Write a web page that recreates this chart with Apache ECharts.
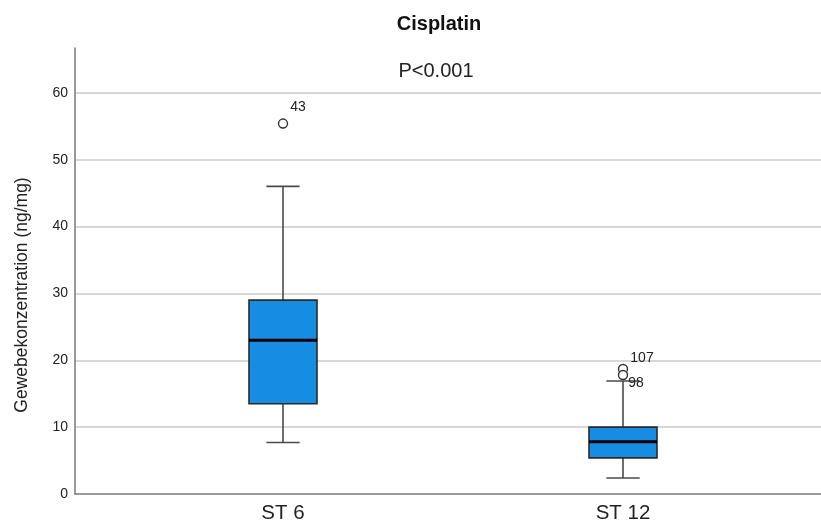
<!DOCTYPE html>
<html>
<head>
<meta charset="utf-8">
<script src="https://cdn.jsdelivr.net/npm/echarts@6/dist/echarts.min.js"></script>
<style>
  html, body { margin: 0; padding: 0; background: #fff; }
  #chart { width: 821px; height: 525px; }
</style>
</head>
<body>
<div id="chart"></div>
<script>
// Tissue concentration of cisplatin per group (ng/mg)
const categories = ['ST 6', 'ST 12'];
const whiskerLow = [7.7, 2.4];
const quartile1 = [13.5, 5.4];
const medians = [23.0, 7.8];
const quartile3 = [29.0, 10.0];
const whiskerHigh = [46.0, 16.9];

// Outliers: group index, value, case number
const outlierGroup = [0, 1, 1];
const outlierValue = [55.4, 18.7, 17.8];
const outlierCase = ['43', '107', '98'];

const yTicks = [0, 10, 20, 30, 40, 50, 60];

const FONT = 'Liberation Sans, Arial, sans-serif';
const Y_MAX = 66.7;

const boxRows = categories.map((c, i) => [i, whiskerLow[i], quartile1[i], medians[i], quartile3[i], whiskerHigh[i]]);
const outlierRows = outlierGroup.map((g, i) => ({ value: [g, outlierValue[i]], caseId: outlierCase[i] }));
const labelOffsets = { '43': [15, -16], '107': [19, -11], '98': [13, 8] };

function renderBox(params, api) {
  const i = api.value(0);
  const pLow = api.coord([i, api.value(1)]);
  const pQ1 = api.coord([i, api.value(2)]);
  const pMed = api.coord([i, api.value(3)]);
  const pQ3 = api.coord([i, api.value(4)]);
  const pHigh = api.coord([i, api.value(5)]);
  const band = api.size([1, 0])[0];
  const w = band * 0.2;
  const cap = w * 0.49;
  const cx = pMed[0];
  const whiskerStyle = { stroke: '#4a4a4a', lineWidth: 1.6 };
  return {
    type: 'group',
    children: [
      { type: 'line', shape: { x1: cx, y1: pQ3[1], x2: cx, y2: pHigh[1] }, style: whiskerStyle },
      { type: 'line', shape: { x1: cx, y1: pQ1[1], x2: cx, y2: pLow[1] }, style: whiskerStyle },
      { type: 'line', shape: { x1: cx - cap / 2, y1: pHigh[1], x2: cx + cap / 2, y2: pHigh[1] }, style: whiskerStyle },
      { type: 'line', shape: { x1: cx - cap / 2, y1: pLow[1], x2: cx + cap / 2, y2: pLow[1] }, style: whiskerStyle },
      { type: 'rect', shape: { x: cx - w / 2, y: pQ3[1], width: w, height: pQ1[1] - pQ3[1] },
        style: { fill: '#178ce3', stroke: '#2a2a2a', lineWidth: 1.6 } },
      { type: 'line', shape: { x1: cx - w / 2, y1: pMed[1], x2: cx + w / 2, y2: pMed[1] },
        style: { stroke: '#000', lineWidth: 3 } }
    ]
  };
}

const chart = echarts.init(document.getElementById('chart'), null, { renderer: 'canvas' });

const yAxisCommon = {
  type: 'value', min: 0, max: Y_MAX, interval: 10
};

chart.setOption({
  backgroundColor: '#fff',
  animation: false,
  title: [
    { text: 'Cisplatin', left: 434, top: 9, textAlign: 'center',
      textStyle: { fontFamily: FONT, fontSize: 20, fontWeight: 'bold', color: '#111' } },
    { text: 'P<0.001', left: 431, top: 56, textAlign: 'center',
      textStyle: { fontFamily: FONT, fontSize: 20, fontWeight: 'normal', color: '#222' } }
  ],
  graphic: [{
    type: 'text', x: 22, y: 295, rotation: Math.PI / 2,
    style: { text: 'Gewebekonzentration (ng/mg)', fontFamily: FONT, fontSize: 17.5,
      fill: '#222', align: 'center', verticalAlign: 'middle' }
  }],
  grid: [
    { left: 75, right: 0, top: 48, bottom: 31 },
    { left: 113, width: 680, top: 48, bottom: 31 }
  ],
  xAxis: [
    { gridIndex: 0, type: 'category', data: ['', ''], boundaryGap: true,
      axisLine: { show: true, lineStyle: { color: '#7a7a7a', width: 1.5 } },
      axisTick: { show: false }, axisLabel: { show: false }, splitLine: { show: false } },
    { gridIndex: 1, type: 'category', data: categories, boundaryGap: true,
      axisLine: { show: false }, axisTick: { show: false }, splitLine: { show: false },
      axisLabel: { fontFamily: FONT, fontSize: 20.5, color: '#222', margin: 9 } }
  ],
  yAxis: [
    Object.assign({ gridIndex: 0 }, yAxisCommon, {
      axisLine: { show: true, lineStyle: { color: '#7a7a7a', width: 1.5 } },
      axisTick: { show: false },
      axisLabel: { fontFamily: FONT, fontSize: 14, color: '#222', margin: 7,
        showMaxLabel: false,
        formatter: v => (yTicks.indexOf(v) >= 0 ? String(v) : '') },
      splitLine: { show: true, showMinLine: false, showMaxLine: false,
        lineStyle: { color: '#cbcbcb', width: 1.6 } }
    }),
    Object.assign({ gridIndex: 1 }, yAxisCommon, {
      show: false, splitLine: { show: false }
    })
  ],
  series: [
    {
      type: 'custom', xAxisIndex: 1, yAxisIndex: 1,
      renderItem: renderBox,
      encode: { x: 0, y: [1, 2, 3, 4, 5] },
      data: boxRows, z: 3
    },
    {
      type: 'scatter', xAxisIndex: 1, yAxisIndex: 1,
      symbol: 'circle', symbolSize: 9,
      itemStyle: { color: '#fff', borderColor: '#333', borderWidth: 1.4, opacity: 1 },
      data: outlierRows.map(o => ({
        value: o.value,
        label: {
          show: true, position: 'inside', offset: labelOffsets[o.caseId],
          formatter: o.caseId, fontFamily: FONT, fontSize: 14, color: '#222'
        }
      })),
      z: 4
    }
  ]
});
</script>
</body>
</html>
